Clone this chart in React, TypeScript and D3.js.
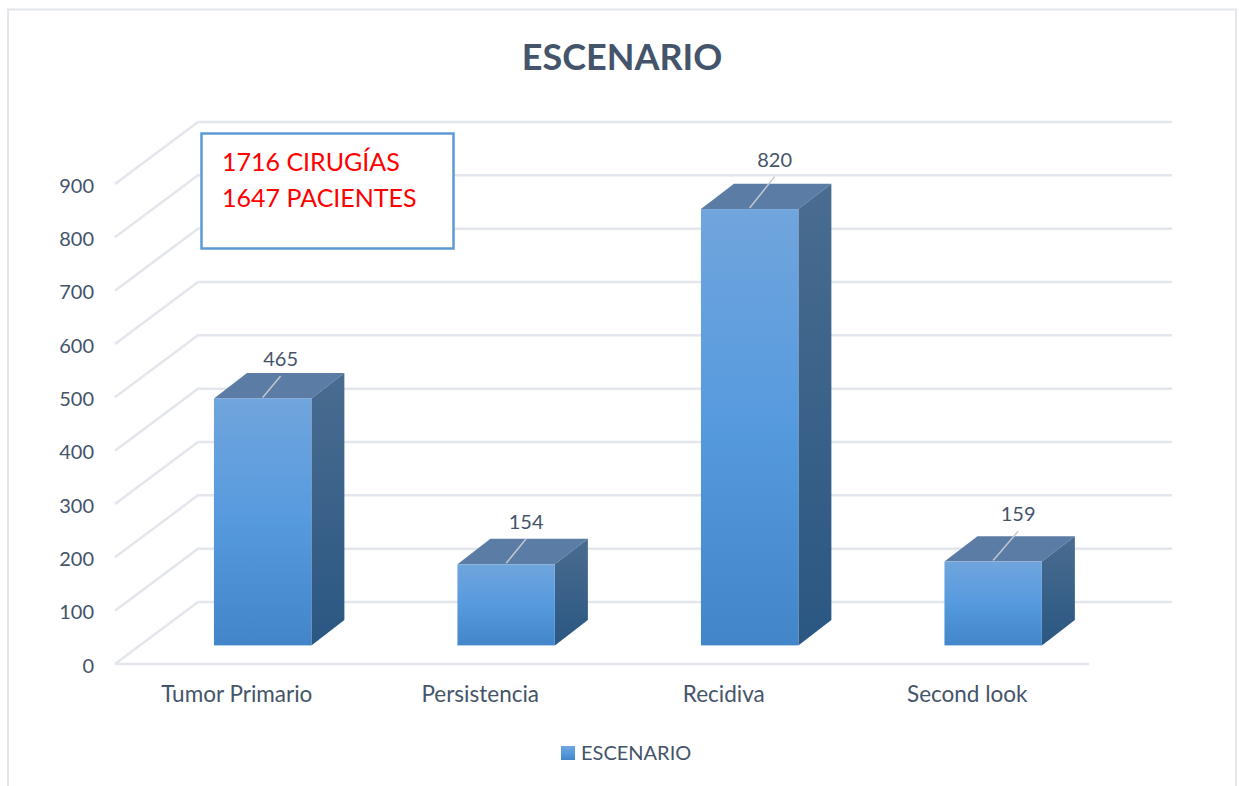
import React from "react";
import * as d3 from "d3";

const categories = ["Tumor Primario", "Persistencia", "Recidiva", "Second look"];
const values = [465, 154, 820, 159];
const yTicks = [0, 100, 200, 300, 400, 500, 600, 700, 800, 900];
const seriesName = "ESCENARIO";
const noteLines = ["1716 CIRUGÍAS", "1647 PACIENTES"];

const width = 1239;
const height = 786;
const font = "Lato, Carlito, Calibri, sans-serif";
const textColor = "#44546a";
const gridColor = "#e3e6ec";

// floor of the 3D box: front edge and how far back it goes
const floorLeft = 115;
const floorRight = 1089;
const depthX = 83;
const depthY = 62;

// bars stand a little way in from the front edge
const barDepthStart = 0.3;
const barDepthEnd = 0.71;

// data labels sit off the bar on a short leader line
const labelLift = [7, 10, 17, 15];
const leaderRun = [18, 20, 25, 25];

const App = () => {
  const xScale = d3
    .scaleBand<string>()
    .domain(categories)
    .range([floorLeft, floorRight])
    .paddingInner(0.6)
    .paddingOuter(0.3);

  const yScale = d3.scaleLinear().domain([0, 900]).range([664, 184]);

  const toPath = (pts: [number, number][]) => d3.line()(pts) + "Z";

  return (
    <svg
      width={width}
      height={height}
      style={{ position: "absolute", left: 0, top: 0, background: "#fff" }}
    >
      <defs>
        <linearGradient id="front" x1="0" y1="0" x2="0" y2="1">
          <stop offset="0" stopColor="#70a5dd" />
          <stop offset="0.5" stopColor="#569ade" />
          <stop offset="1" stopColor="#4286c9" />
        </linearGradient>
        <linearGradient id="side" x1="0" y1="0" x2="0" y2="1">
          <stop offset="0" stopColor="#4a6c90" />
          <stop offset="1" stopColor="#2a5782" />
        </linearGradient>
      </defs>

      {/* chart frame, runs off the bottom of the page */}
      <path
        d={`M8,${height}V9.5H1236V${height}`}
        fill="none"
        stroke={gridColor}
        strokeWidth={2}
      />

      <text
        x={622}
        y={70}
        textAnchor="middle"
        fontFamily={font}
        fontSize={36}
        fontWeight={700}
        fill={textColor}
      >
        ESCENARIO
      </text>

      {/* grid: side wall, back wall */}
      {yTicks.map((t) => (
        <g key={t}>
          <path
            d={
              d3.line()([
                [floorLeft, yScale(t)],
                [floorLeft + depthX, yScale(t) - depthY],
                [floorRight + depthX, yScale(t) - depthY],
              ]) as string
            }
            fill="none"
            stroke={gridColor}
            strokeWidth={2.5}
          />
          <text
            x={94}
            y={yScale(t) + 2}
            dy="0.33em"
            textAnchor="end"
            fontFamily={font}
            fontSize={20}
            fill={textColor}
          >
            {t}
          </text>
        </g>
      ))}
      <line
        x1={floorLeft}
        x2={floorRight}
        y1={yScale(0)}
        y2={yScale(0)}
        stroke={gridColor}
        strokeWidth={2.5}
      />

      {categories.map((c, i) => {
        const v = values[i];
        const x0 = (xScale(c) as number) + depthX * barDepthStart + 1;
        const x1 = x0 + xScale.bandwidth();
        const dx = depthX * (barDepthEnd - barDepthStart) - 1;
        const dy = depthY * (barDepthEnd - barDepthStart);
        const yBase = yScale(0) - depthY * barDepthStart;
        const yTop = yBase - (yScale(0) - yScale(v)) + 1;
        const midX = (x0 + x1) / 2;
        const leaderEndX = midX + leaderRun[i];
        const labelY = yTop - dy - labelLift[i];
        return (
          <g key={c}>
            <path
              d={toPath([
                [x0, yTop],
                [x0 + dx, yTop - dy],
                [x1 + dx, yTop - dy],
                [x1, yTop],
              ])}
              fill="#5a7ca5"
            />
            <path
              d={toPath([
                [x1, yTop],
                [x1 + dx, yTop - dy],
                [x1 + dx, yBase - dy],
                [x1, yBase],
              ])}
              fill="url(#side)"
            />
            <rect
              x={x0}
              y={yTop}
              width={x1 - x0}
              height={yBase - yTop}
              fill="url(#front)"
            />
            <line
              x1={midX}
              y1={yTop - 1}
              x2={leaderEndX}
              y2={labelY + 10}
              stroke="#c3c8ce"
              strokeWidth={1.5}
            />
            <text
              x={leaderEndX}
              y={labelY}
              textAnchor="middle"
              fontFamily={font}
              fontSize={20}
              fill={textColor}
            >
              {v}
            </text>
            <text
              x={(xScale(c) as number) + xScale.bandwidth() / 2}
              y={702}
              textAnchor="middle"
              fontFamily={font}
              fontSize={22.5}
              fill={textColor}
            >
              {c}
            </text>
          </g>
        );
      })}

      {/* note box */}
      <rect
        x={201.5}
        y={133.5}
        width={252}
        height={115}
        fill="#fff"
        stroke="#5b9bd5"
        strokeWidth={2.5}
      />
      {noteLines.map((line, i) => (
        <text
          key={line}
          x={222}
          y={171 + i * 36}
          fontFamily={font}
          fontSize={25}
          fill="#ff0000"
        >
          {line}
        </text>
      ))}

      {/* legend */}
      <rect x={561} y={746} width={14} height={14} fill="url(#front)" />
      <text
        x={581}
        y={760}
        fontFamily={font}
        fontSize={20}
        fill={textColor}
      >
        {seriesName}
      </text>
    </svg>
  );
};

export default App;
